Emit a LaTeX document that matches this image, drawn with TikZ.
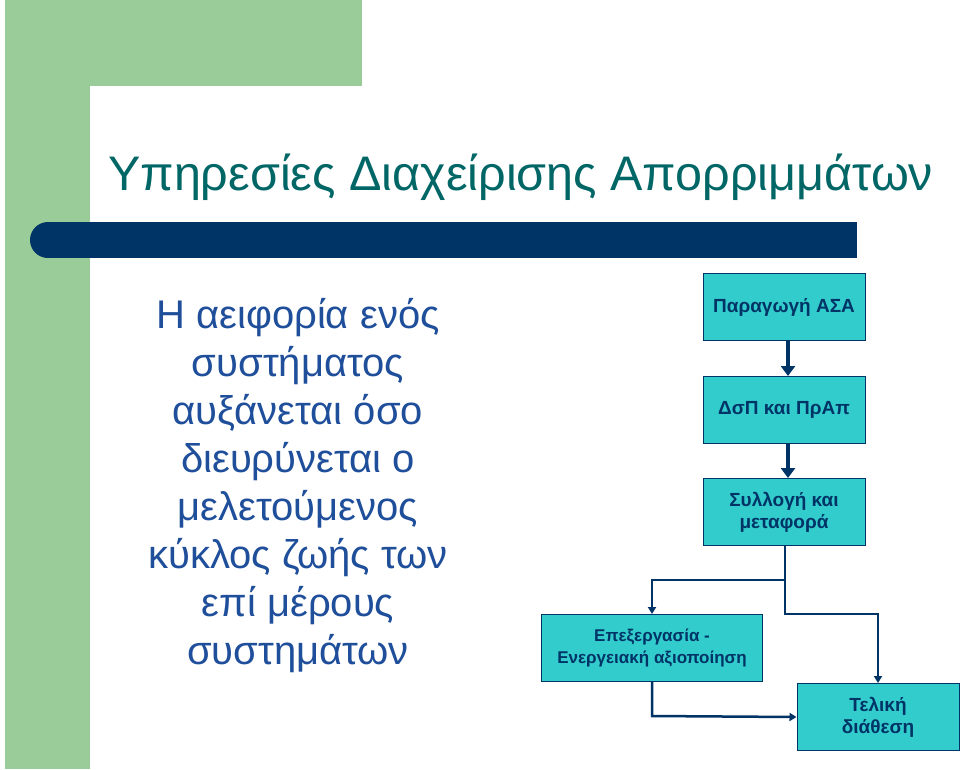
\documentclass[tikz,border=0pt]{standalone}
\usepackage{fontspec}
\setmainfont{Liberation Sans}
\usetikzlibrary{arrows.meta}
\definecolor{grn}{HTML}{99CC99}
\definecolor{navy}{HTML}{003366}
\definecolor{teal1}{HTML}{006666}
\definecolor{cyanbox}{HTML}{33CCCC}
\definecolor{bodyblue}{HTML}{1F4E9A}
\tikzset{
  fbox/.style={draw=navy,line width=1pt,fill=cyanbox,minimum width=162pt,minimum height=67pt,inner sep=0pt,align=center,font=\bfseries\fontsize{19}{22}\selectfont,text=navy},
  conn/.style={draw=navy,line width=4pt,-{Triangle[length=10pt,width=14pt]}},
  thin/.style={draw=navy,line width=2.5pt,-{Triangle[length=7pt,width=8pt]}}
}
\begin{document}
\begin{tikzpicture}[x=1pt,y=-1pt]
\useasboundingbox (0,0) rectangle (960,769);
\fill[white] (0,0) rectangle (960,769);
\fill[grn] (5,0) rectangle (362,86);
\fill[grn] (5,0) rectangle (90,769);
\fill[white] (105,86) rectangle (362,769);
\fill[white] (90,101) rectangle (362,769);
\fill[white] (105,101) circle[radius=15];
\fill[white] (362,0) rectangle (960,769);
\fill[navy] (48,222) rectangle (857,258);
\fill[navy] (48,240) circle[radius=18];
\node[anchor=base west,text=teal1,font=\fontsize{48.5}{54}\selectfont,inner sep=0pt] (title) at (108,190) {Υπηρεσίες Διαχείρισης Απορριμμάτων};
\node[anchor=north,text=bodyblue,font=\fontsize{40}{48}\selectfont,align=center,inner sep=0pt] (body) at (298,298) {Η αειφορία ενός\\συστήματος\\αυξάνεται όσο\\διευρύνεται ο\\μελετούμενος\\κύκλος ζωής των\\επί μέρους\\συστημάτων};
\node[fbox] (a) at (784,307) {Παραγωγή ΑΣΑ};
\node[fbox] (b) at (784,410) {ΔσΠ και ΠρΑπ};
\node[fbox] (c) at (784,512) {Συλλογή και\\μεταφορά};
\node[fbox,minimum width=221pt,font=\bfseries\fontsize{17}{22}\selectfont] (d) at (652,648) {Επεξεργασία -\\Ενεργειακή αξιοποίηση};
\node[fbox,minimum width=162pt] (e) at (878,717) {Τελική\\διάθεση};
\draw[conn] (a.south -| 788,0) -- (788,376);
\draw[conn] (b.south -| 788,0) -- (788,478);
\coordinate (j) at (785,580);
\draw[thin] (c.south -| j) -- (j) -- (652,580) -- (d.north);
\draw[thin] (j) -- (785,614) -- (878,614) -- (e.north);
\draw[thin] (d.south) -- (652,716) -- (e.west);
\end{tikzpicture}
\end{document}
